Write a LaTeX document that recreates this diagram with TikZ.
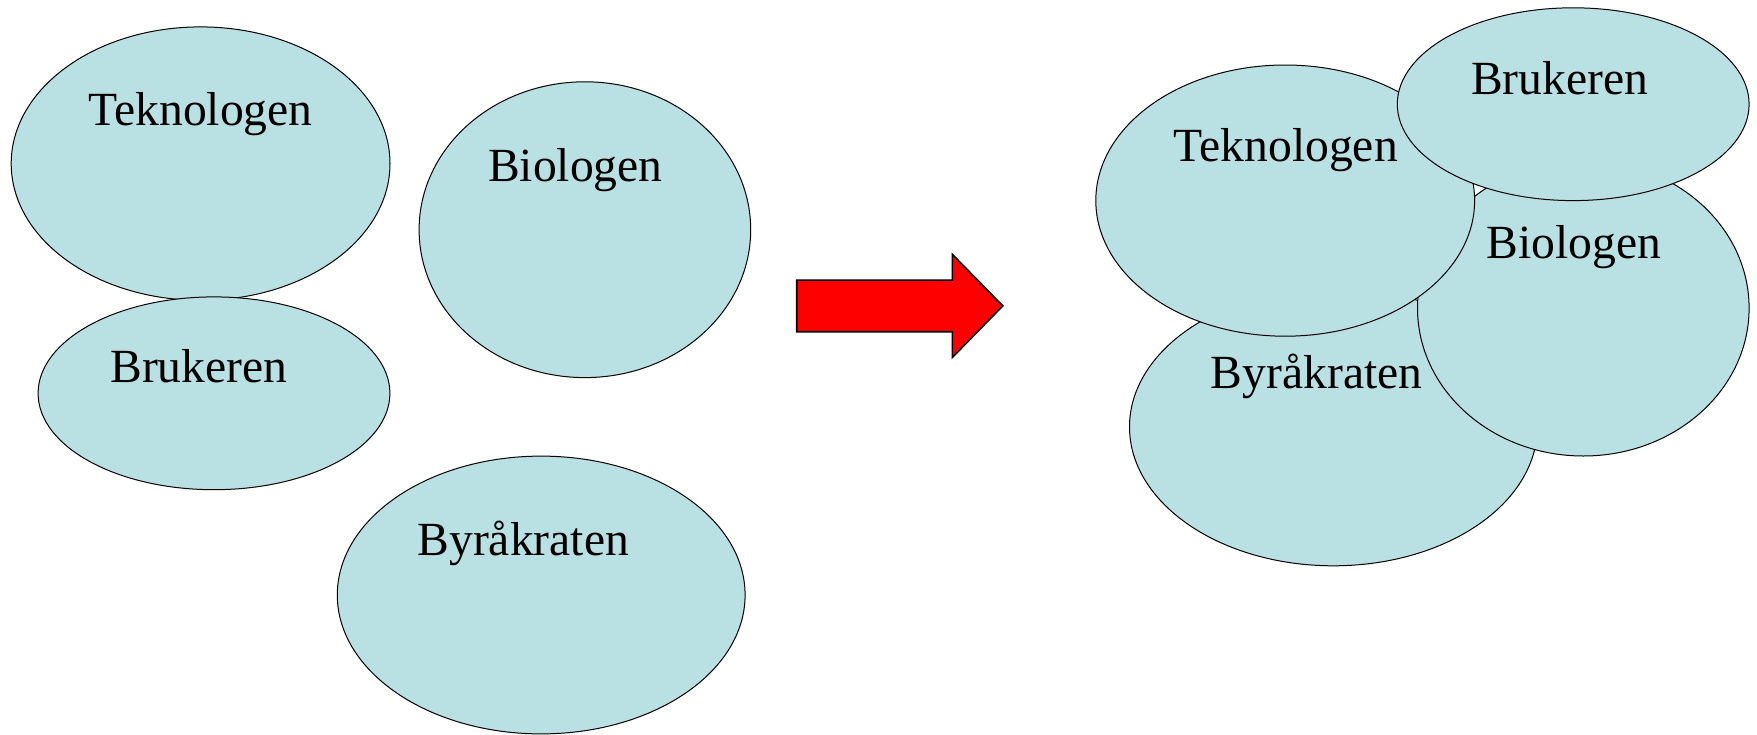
\documentclass[tikz,border=0pt]{standalone}
\usepackage{fontspec}
\setmainfont{Liberation Serif}
\usetikzlibrary{shapes.geometric}

\definecolor{blobfill}{RGB}{185,224,227}

\tikzset{
  blob/.style={ellipse, draw=black, fill=blobfill, line width=1pt, inner sep=0pt},
  lbl/.style={anchor=base, inner sep=0pt, font=\fontsize{47.6}{57}\selectfont},
  pil/.style={draw=black, fill=red, line width=1.6pt, line join=miter}
}

\begin{document}
\begin{tikzpicture}[x=1pt, y=-1pt]

\useasboundingbox (0,0) rectangle (1757,734);

% Left half: the four parties apart.
% id / centre / radii / text position / text
\foreach \id/\cx/\cy/\rx/\ry/\tx/\ty/\txt in {
    tekL/200.6/163.6/189.4/136.7/200.6/125.5/Teknologen,
    bruL/214.0/393.3/175.9/96.4/198.9/382.0/Brukeren,
    bioL/584.9/229.7/165.8/147.9/575.4/181.5/Biologen,
    byrL/541.2/595.0/203.9/138.9/523.3/555.8/Byråkraten%
} {
  \node[blob, minimum width=2*\rx, minimum height=2*\ry] (\id) at (\cx,\cy) {};
  \node[lbl] (\id txt) at (\tx,\ty) {\txt};
}

% The big red arrow in the middle.
\draw[pil]
  (796.7,280.1) coordinate (pilA) -- (952.4,280.1) -- (952.4,254.4)
  -- (1002.8,305.9) coordinate (pilTip) -- (952.4,357.4) -- (952.4,331.7)
  -- (796.7,331.7) -- cycle;

% Right half: the same four, overlapping.  Order matters here,
% Brukeren has to come last since it sits on top of the rest.
\foreach \id/\cx/\cy/\rx/\ry/\tx/\ty/\txt in {
    byrR/1333.4/426.9/203.9/138.9/1316.6/388.8/Byråkraten,
    bioR/1583.3/308.1/165.8/147.9/1573.7/258.8/Biologen,
    tekR/1285.2/200.6/189.4/135.6/1285.8/161.4/Teknologen,
    bruR/1573.2/104.2/175.9/96.4/1559.7/94.1/Brukeren%
} {
  \node[blob, minimum width=2*\rx, minimum height=2*\ry] (\id) at (\cx,\cy) {};
  \node[lbl] (\id txt) at (\tx,\ty) {\txt};
}

\end{tikzpicture}
\end{document}
